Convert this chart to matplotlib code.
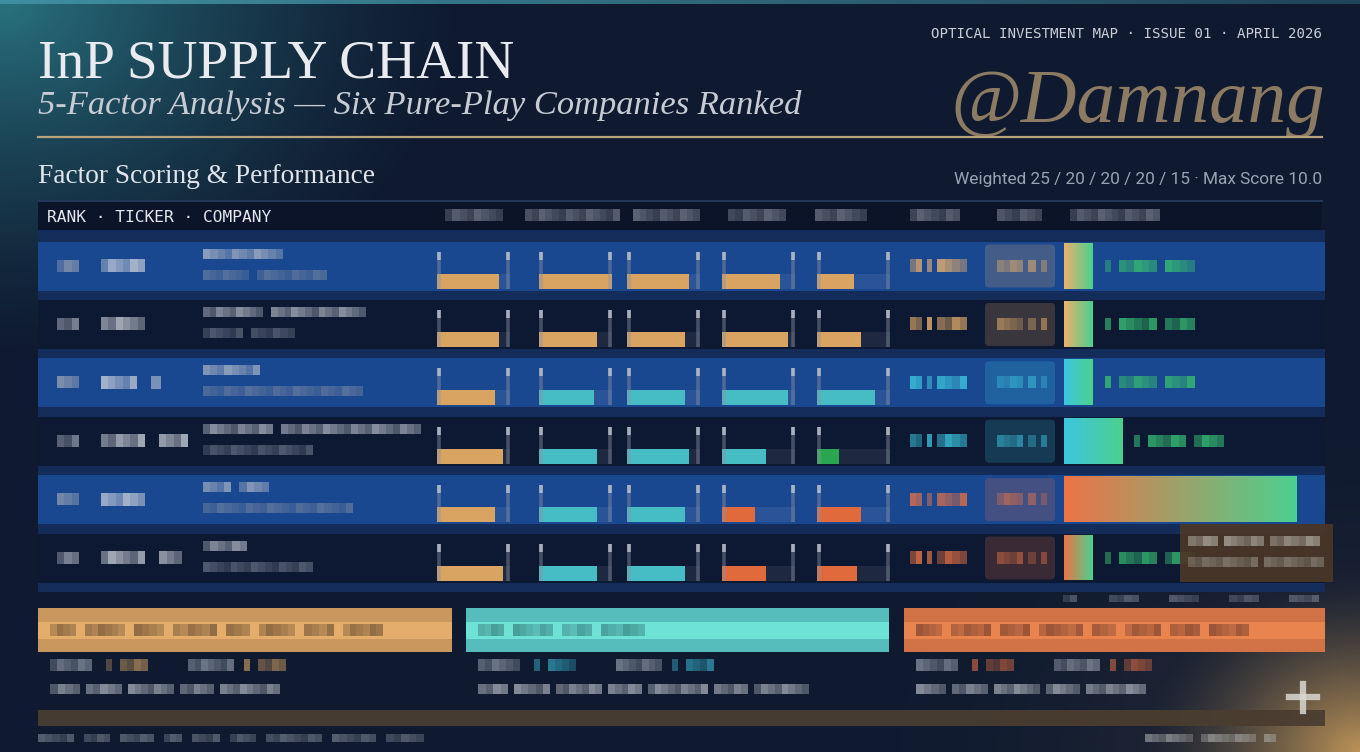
import numpy as np
import matplotlib
matplotlib.use("Agg")
import matplotlib.pyplot as plt
from matplotlib.patches import Rectangle, FancyBboxPatch
from matplotlib.colors import to_rgb

W, H = 1360, 752

# ---- data (pixelated parts estimated) ----
ranks = [1, 2, 3, 4, 5, 6]
tiers = ["gold", "gold", "teal", "teal", "orange", "orange"]
weights = [25, 20, 20, 20, 15]
scores = [
    [8.5, 10.0, 8.5, 8.0, 5.0],
    [8.5, 8.0, 8.0, 9.0, 6.0],
    [8.0, 7.5, 8.0, 9.0, 8.0],
    [9.0, 8.0, 8.5, 6.0, 3.0],
    [8.0, 8.0, 8.0, 4.5, 6.0],
    [9.0, 8.0, 8.0, 6.0, 5.5],
]
score_tone = [
    ["gold", "gold", "gold", "gold", "gold"],
    ["gold", "gold", "gold", "gold", "gold"],
    ["gold", "teal", "teal", "teal", "teal"],
    ["gold", "teal", "teal", "teal", "green"],
    ["gold", "teal", "teal", "orange", "orange"],
    ["gold", "teal", "teal", "orange", "orange"],
]
perf = [48, 48, 48, 97, 388, 48]
perf_ticks = [0, 100, 200, 300, 400]

tone = {"gold": "#d9a462", "teal": "#46bcc4", "orange": "#e06a3c", "green": "#2aa650"}
tier_col = {"gold": "#eab16c", "teal": "#3cc6e0", "orange": "#ec7446"}
PERF_END = "#4cd08e"
BG = "#0f1a30"

fig = plt.figure(figsize=(W / 100, H / 100), dpi=100)
ax = fig.add_axes([0, 0, 1, 1])
ax.set_xlim(0, W)
ax.set_ylim(H, 0)
ax.axis("off")
R = fig.canvas.get_renderer()


def px_axes(x0, x1, y0, y1, xlim):
    a = fig.add_axes([x0 / W, 1 - y1 / H, (x1 - x0) / W, (y1 - y0) / H])
    a.set_xlim(*xlim)
    a.set_ylim(y1, y0)
    a.axis("off")
    a.patch.set_alpha(0)
    return a


def to_main(a, x, y):
    return ax.transData.inverted().transform(a.transData.transform((x, y)))


def fit(x, y, s, width, ha="left", **kw):
    t = ax.text(x, y, s, ha=ha, **kw)
    bb = t.get_window_extent(renderer=R)
    t.set_fontsize(t.get_fontsize() * width / bb.width)
    return t


def mosaic(x, y, w, h, color, alpha=0.6, key=0, cell=7, z=5):
    # pixelated text stand-in
    n = max(1, int(round(w / cell)))
    cw = w / n
    for i in range(n):
        a = alpha * (0.55 + 0.45 * (((i * 5 + key * 3) % 7) / 6))
        ax.add_patch(Rectangle((x + i * cw, y - h / 2), cw, h, fc=color, ec="none",
                               alpha=a, zorder=z))


def words(x, y, widths, h, color, alpha=0.6, gap=7, key=0, z=5):
    for k, w in enumerate(widths):
        mosaic(x, y, w, h, color, alpha, key + k, z=z)
        x += w + gap


# ---- background with glows ----
yy, xx = np.mgrid[0:H, 0:W].astype(float)
img = np.ones((H, W, 3)) * np.array(to_rgb(BG))
d = np.sqrt((xx / 470) ** 2 + (yy / 360) ** 2)
w1 = np.clip(1 - d, 0, 1) ** 1.4 * 0.8
img = img * (1 - w1[..., None]) + np.array(to_rgb("#2f8893")) * w1[..., None]
d = np.sqrt(((W - xx) / 560) ** 2 + ((H - yy) / 380) ** 2)
w2 = np.clip(1 - d, 0, 1) ** 2 * 0.35
img = img * (1 - w2[..., None]) + np.array(to_rgb("#6b5a44")) * w2[..., None]
d = np.sqrt(((W - xx) / 220) ** 2 + ((H - yy) / 180) ** 2)
w3 = np.clip(1 - d, 0, 1) ** 1.5 * 0.85
img = img * (1 - w3[..., None]) + np.array(to_rgb("#d6a55e")) * w3[..., None]
ax.imshow(img, extent=(0, W, H, 0), origin="upper", zorder=0, aspect="auto")

strip = np.linspace(1, 0.35, W)[None, :, None]
top = np.array(to_rgb("#3f8fa0")) * strip + np.array(to_rgb(BG)) * (1 - strip)
ax.imshow(top, extent=(0, W, 4, 0), zorder=1, aspect="auto")

# ---- header texts ----
fit(38, 77, "InP SUPPLY CHAIN", 475, family="Liberation Serif", color="#e9ebf0",
    va="baseline", fontsize=40, zorder=6)
fit(38, 114, "5-Factor Analysis \u2014 Six Pure-Play Companies Ranked", 764,
    family="Liberation Serif", style="italic", color="#c7cbd3", va="baseline",
    fontsize=24, zorder=6)
fit(1322, 38, "OPTICAL INVESTMENT MAP \u00b7 ISSUE 01 \u00b7 APRIL 2026", 393,
    ha="right", family="DejaVu Sans Mono", color="#c9cdd6", va="baseline",
    fontsize=10, zorder=6)
fit(1325, 122, "@Damnang", 375, ha="right", family="Liberation Serif",
    style="italic", color="#8c7b62", va="baseline", fontsize=60, zorder=6)
ax.plot([38, 1322], [137, 137], color="#b9a27c", lw=1.6, zorder=6)
fit(38, 183, "Factor Scoring & Performance", 337, family="Liberation Serif",
    color="#e1e4ea", va="baseline", fontsize=18, zorder=6)
fit(1322, 184, "Weighted " + " / ".join(str(v) for v in weights) + " \u00b7 Max Score 10.0",
    371, ha="right", family=["Liberation Sans Narrow", "Roboto"], color="#9aa3b4",
    va="baseline", fontsize=14, zorder=6)

# ---- table frame ----
ax.add_patch(Rectangle((38, 200), 1284, 30, fc="#0b1428", ec="none", zorder=2))
ax.plot([38, 1322], [200.5, 200.5], color="#223659", lw=1.5, zorder=3)
fit(47, 222, "RANK \u00b7 TICKER \u00b7 COMPANY", 223, family="DejaVu Sans Mono",
    color="#e4e7ee", va="baseline", fontsize=11, zorder=6)
head_blocks = [(445, 58), (525, 95), (633, 67), (728, 58), (815, 52),
               (910, 50), (997, 45), (1070, 90)]
for k, (hx, hw) in enumerate(head_blocks):
    mosaic(hx, 215, hw, 12, "#9aa1b0", 0.55, key=k)

ax.add_patch(Rectangle((38, 230), 1287, 362, fc="#132c5a", ec="none", zorder=2))

row_y = [265.5 + i * 58.4 for i in range(len(ranks))]
line1 = [[80], [60, 95], [57], [70, 140], [28, 30], [44]]
line2 = [[46, 70], [40, 44], [160], [110], [150], [110]]
tick_w = [[44], [44], [36, 10], [44, 29], [44], [44, 23]]
for i, rc in enumerate(row_y):
    fc = "#1a4890" if i % 2 == 0 else "#0d1832"
    ax.add_patch(Rectangle((38, rc - 24), 1287, 49, fc=fc, ec="none", zorder=2))
    mosaic(57, rc, 22, 12, "#a4abba", 0.7, key=i)
    words(101, rc, tick_w[i], 13, "#d0d5df", 0.75, gap=14, key=i)
    words(203, rc - 12, line1[i], 10, "#b8bfcc", 0.7, gap=8, key=i + 2)
    words(203, rc + 9, line2[i], 10, "#8d96a8", 0.5, gap=8, key=i + 4)

# ---- factor score bars, one axes per factor ----
cell_x = [437, 539, 627, 722, 817]
for j, cx in enumerate(cell_x):
    fa = px_axes(cx, cx + 73, 230, 592, (0, 10))
    ys = [rc + 15.5 for rc in row_y]
    fa.barh(ys, [10] * len(ys), height=15, color="white", alpha=0.07, zorder=2)
    fa.barh(ys, [s[j] for s in scores], height=15,
            color=[tone[t[j]] for t in score_tone], zorder=3)
    for rc in row_y:
        fa.vlines([0.25, 9.75], rc - 14, rc + 23, color="#8a92a3", lw=2.6,
                  alpha=0.45, zorder=4)
        fa.vlines([0.25, 9.75], rc - 14, rc - 6, color="#c2c7d2", lw=2.6,
                  alpha=0.8, zorder=5)

# ---- composite score and tier badge (pixelated) ----
for i, rc in enumerate(row_y):
    words(910, rc, [12, 5, 30], 13, tier_col[tiers[i]], 0.8, gap=5, key=i)
    ax.add_patch(FancyBboxPatch((985, rc - 21), 70, 43,
                                boxstyle="round,pad=0,rounding_size=4",
                                fc=tier_col[tiers[i]], ec="none", alpha=0.2, zorder=3))
    words(997, rc, [26, 8, 6], 12, tier_col[tiers[i]], 0.55, gap=5, key=i + 1)

# ---- performance bars ----
pa = px_axes(1064, 1304, 230, 592, (0, perf_ticks[-1]))
bars = pa.barh(row_y, perf, height=46, color="none", zorder=3)
for i, (b, v) in enumerate(zip(bars, perf)):
    c0 = np.array(to_rgb(tier_col[tiers[i]]))
    c1 = np.array(to_rgb(PERF_END))
    t = np.linspace(0, 1, 64)[None, :, None]
    grad = c0 * (1 - t) + c1 * t
    im = pa.imshow(grad, extent=(0, v, row_y[i] + 23, row_y[i] - 23),
                   aspect="auto", interpolation="bilinear", zorder=3)
    im.set_clip_path(b)
    ex, _ = to_main(pa, v, 0)
    if v > 300:
        words(ex - 100, row_y[i], [22, 22, 30], 13, "#5b6b63", 0.9, gap=8, key=i)
    else:
        words(ex + 12, row_y[i], [6, 38, 30], 12, "#35b873", 0.85, gap=8, key=i)
pa.set_xlim(0, perf_ticks[-1])
pa.set_ylim(592, 230)
for k, tv in enumerate(perf_ticks):
    tx, _ = to_main(pa, tv, 0)
    tw = 14 if k == 0 else 30
    mosaic(tx - tw / 2 + (6 if k == 0 else 0), 598, tw, 7, "#9aa1b0", 0.45, key=k)

# tooltip on last row
ax.add_patch(Rectangle((1180, 524), 153, 58, fc="#4b3727", ec="none", alpha=0.92, zorder=6))
words(1188, 541, [30, 40, 50], 10, "#b6b1aa", 0.7, gap=6, key=1, z=7)
words(1188, 562, [70, 60], 10, "#9d978f", 0.6, gap=6, key=3, z=7)

# ---- tier legend cards ----
cards = [(38, 452, "gold", "#c9975e", "#e4ad6b", "#7e5c3a"),
         (466, 889, "teal", "#56bcbc", "#6fe2d6", "#3f8e8c"),
         (904, 1325, "orange", "#d17346", "#e9844f", "#8a4a32")]
for k, (x0, x1, tname, c_out, c_mid, c_txt) in enumerate(cards):
    ax.add_patch(Rectangle((x0, 608), x1 - x0, 44, fc=c_out, ec="none", zorder=4))
    ax.add_patch(Rectangle((x0, 622), x1 - x0, 17, fc=c_mid, ec="none", zorder=4))
    span = (x1 - x0) * (0.88 if k != 1 else 0.45)
    words(x0 + 12, 630, [26, 40, 30, 44, 24, 36, 30, 40][: int(span // 40)], 12,
          c_txt, 0.8, gap=9, key=k)
    words(x0 + 12, 665, [42], 12, "#a8afbd", 0.6, key=k)
    words(x0 + 68, 665, [6, 28], 12, tier_col[tname], 0.55, gap=8, key=k)
    words(x0 + 150, 665, [46], 12, "#a8afbd", 0.6, key=k + 1)
    words(x0 + 206, 665, [6, 28], 12, tier_col[tname], 0.55, gap=8, key=k + 2)
    words(x0 + 12, 689, [30, 36, 46, 34, 60, 34, 55][: 5 + k % 2 + (k == 1)],
          10, "#c2c6ce", 0.65, gap=6, key=k)

# ---- footer ----
ax.add_patch(Rectangle((38, 710), 1287, 16, fc="#4a3d30", ec="none", alpha=0.95, zorder=4))
words(38, 738, [36, 26, 34, 18, 28, 26, 56, 44, 38], 8, "#9aa1ad", 0.5, gap=10, key=2)
words(1145, 738, [48, 55, 12], 8, "#b4b6b6", 0.6, gap=8, key=4)
ax.plot([1303, 1303], [684, 711], color="#d9d8d2", lw=4.5, alpha=0.85, zorder=6)
ax.plot([1289, 1317], [697, 697], color="#d9d8d2", lw=4.5, alpha=0.85, zorder=6)

fig.savefig("out.png", dpi=100, facecolor=BG)
